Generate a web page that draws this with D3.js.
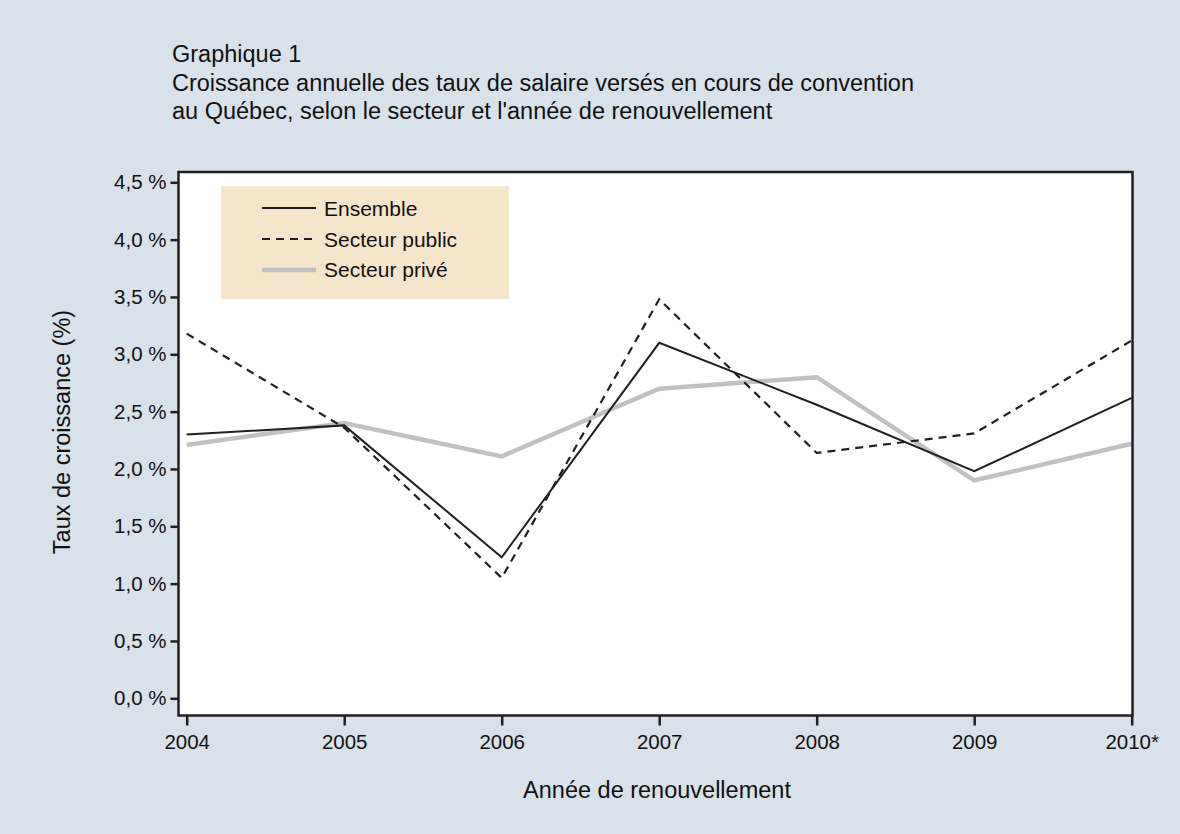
<!DOCTYPE html>
<html>
<head>
<meta charset="utf-8">
<script src="https://cdn.jsdelivr.net/npm/d3@7"></script>
<style>
  body { margin: 0; background: #d9e1ea; }
  svg { display: block; font-family: "Liberation Sans", Arial, sans-serif; }
</style>
</head>
<body>
<div id="chart"></div>
<script>
// data
var years = ["2004", "2005", "2006", "2007", "2008", "2009", "2010*"];
var ensemble = [2.30, 2.38, 1.23, 3.10, 2.56, 1.98, 2.62];
var publicSector = [3.18, 2.36, 1.05, 3.48, 2.14, 2.31, 3.12];
var privateSector = [2.21, 2.40, 2.11, 2.70, 2.80, 1.90, 2.22];
var yTicks = [0, 0.5, 1, 1.5, 2, 2.5, 3, 3.5, 4, 4.5];
var titleLines = [
  "Graphique 1",
  "Croissance annuelle des taux de salaire versés en cours de convention",
  "au Québec, selon le secteur et l'année de renouvellement"
];

var series = [
  { name: "Ensemble", values: ensemble, color: "#231f20", width: 2, dash: null },
  { name: "Secteur public", values: publicSector, color: "#231f20", width: 2.2, dash: "8,6" },
  { name: "Secteur privé", values: privateSector, color: "#c1c1c5", width: 4.5, dash: null }
];

var outerWidth = 1180,
    outerHeight = 834,
    frame = { left: 178.5, top: 172, right: 1132.5, bottom: 715.5 };

var svg = d3.select("#chart").append("svg")
  .attr("width", outerWidth)
  .attr("height", outerHeight);

svg.append("rect")
  .attr("width", outerWidth)
  .attr("height", outerHeight)
  .attr("fill", "#d9e1ea");

// title
svg.append("g").selectAll("text")
  .data(titleLines)
  .enter()
  .append("text")
  .attr("x", 172)
  .attr("y", function(d, i) { return 62 + i * 28.5; })
  .attr("font-size", 23.5)
  .attr("fill", "#111")
  .text(function(d) { return d; });

// scales
var xScale = d3.scalePoint()
  .domain(years)
  .range([186.7, 1131.7]);

var yScale = d3.scaleLinear()
  .domain([0, 4.5])
  .range([698.3, 182.3]);

// plot area
svg.append("rect")
  .attr("x", frame.left)
  .attr("y", frame.top)
  .attr("width", frame.right - frame.left)
  .attr("height", frame.bottom - frame.top)
  .attr("fill", "#fff");

// legend box
var legend = svg.append("g").attr("class", "legend");
legend.append("rect")
  .attr("x", 221)
  .attr("y", 186)
  .attr("width", 288)
  .attr("height", 113)
  .attr("fill", "#f5e5cb");

legend.selectAll("line")
  .data(series)
  .enter()
  .append("line")
  .attr("x1", 262)
  .attr("x2", 316)
  .attr("y1", function(d, i) { return 208 + i * 31; })
  .attr("y2", function(d, i) { return 208 + i * 31; })
  .attr("stroke", function(d) { return d.color; })
  .attr("stroke-width", function(d) { return d.width; })
  .attr("stroke-dasharray", function(d) { return d.dash; });

legend.selectAll("text")
  .data(series)
  .enter()
  .append("text")
  .attr("x", 324)
  .attr("y", function(d, i) { return 216 + i * 30.5; })
  .attr("font-size", 21)
  .attr("fill", "#111")
  .text(function(d) { return d.name; });

// lines, grey one first so the dark ones sit on top
var line = d3.line()
  .x(function(d, i) { return xScale(years[i]); })
  .y(function(d) { return yScale(d); });

svg.append("g").selectAll("path")
  .data(series.slice().reverse())
  .enter()
  .append("path")
  .attr("d", function(d) { return line(d.values); })
  .attr("fill", "none")
  .attr("stroke", function(d) { return d.color; })
  .attr("stroke-width", function(d) { return d.width; })
  .attr("stroke-dasharray", function(d) { return d.dash; })
  .attr("stroke-linejoin", "miter");

// frame
svg.append("rect")
  .attr("x", frame.left)
  .attr("y", frame.top)
  .attr("width", frame.right - frame.left)
  .attr("height", frame.bottom - frame.top)
  .attr("fill", "none")
  .attr("stroke", "#231f20")
  .attr("stroke-width", 2.5);

// axes
var formatPct = function(d) { return d3.format(".1f")(d).replace(".", ",") + " %"; };

var yAxis = d3.axisLeft(yScale)
  .tickValues(yTicks)
  .tickFormat(formatPct)
  .tickSize(8)
  .tickPadding(4);

var gy = svg.append("g")
  .attr("transform", "translate(" + frame.left + ",0)")
  .call(yAxis);

var xAxis = d3.axisBottom(xScale)
  .tickSize(10)
  .tickPadding(9);

var gx = svg.append("g")
  .attr("transform", "translate(0," + frame.bottom + ")")
  .call(xAxis);

[gx, gy].forEach(function(g) {
  g.select(".domain").remove();
  g.selectAll(".tick line").attr("stroke", "#231f20").attr("stroke-width", 2.5);
  g.selectAll(".tick text").attr("font-size", 20.5).attr("fill", "#111")
    .attr("font-family", "'Liberation Sans', Arial, sans-serif");
});

// axis labels
svg.append("text")
  .attr("text-anchor", "middle")
  .attr("transform", "translate(70,432) rotate(-90)")
  .attr("font-size", 23.5)
  .attr("fill", "#111")
  .text("Taux de croissance (%)");

svg.append("text")
  .attr("text-anchor", "middle")
  .attr("x", 657)
  .attr("y", 798)
  .attr("font-size", 23.5)
  .attr("fill", "#111")
  .text("Année de renouvellement");
</script>
</body>
</html>
